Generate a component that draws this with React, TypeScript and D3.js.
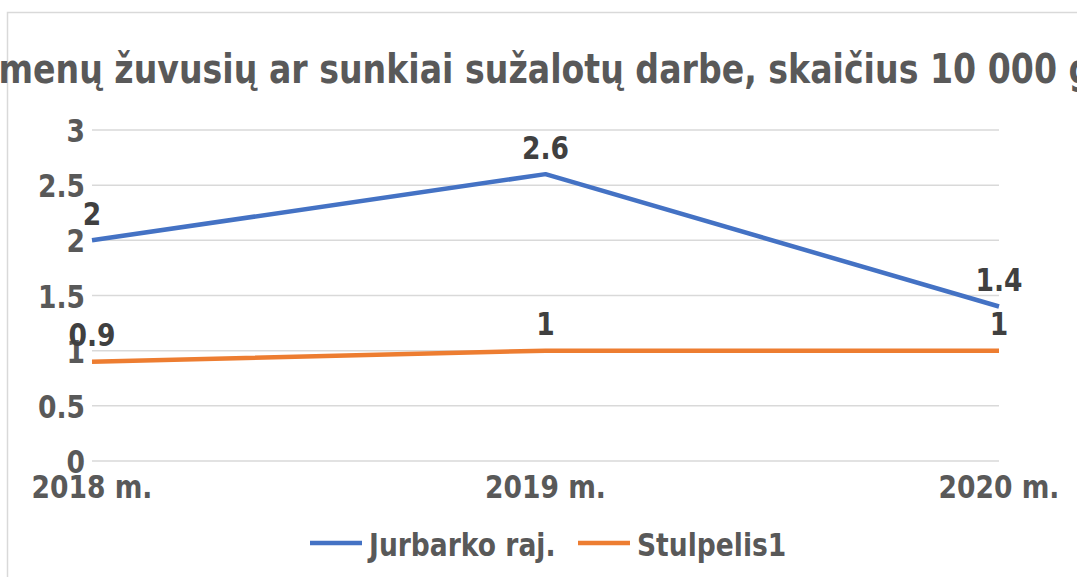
import React from "react";
import { scalePoint, scaleLinear, line } from "d3";

const years = ["2018 m.", "2019 m.", "2020 m."];
const jurbarko = [2, 2.6, 1.4];
const stulpelis = [0.9, 1, 1];
const yTicks = [0, 0.5, 1, 1.5, 2, 2.5, 3];
const seriesNames = ["Jurbarko raj.", "Stulpelis1"];
const seriesColors = ["#4472C4", "#ED7D31"];
const title = "Asmenų žuvusių ar sunkiai sužalotų darbe, skaičius 10 000 gyventojų";

const FONT = "'DejaVu Sans', Verdana, sans-serif";
const SX = 0.83; // text in the picture is squeezed horizontally

function T({ x, y, size, fill, anchor = "middle", children }) {
  return (
    <g transform={`translate(${x},${y}) scale(${SX},1)`}>
      <text fontFamily={FONT} fontWeight="bold" fontSize={size} fill={fill} textAnchor={anchor}>
        {children}
      </text>
    </g>
  );
}

export default function App() {
  const width = 1077;
  const height = 577;
  const plot = { left: 92, right: 999, top: 130, bottom: 461 };

  const x = scalePoint().domain(years).range([plot.left, plot.right]);
  const y = scaleLinear().domain([0, 3]).range([plot.bottom, plot.top]);

  const gen = line<number>()
    .x((_, i) => x(years[i]))
    .y((d) => y(d));

  const series = [jurbarko, stulpelis];
  const legendX = [310, 578];

  return (
    <svg width={width} height={height} style={{ position: "absolute", left: 0, top: 0, background: "#fff" }}>
      <rect x={7.5} y={12.5} width={1200} height={700} fill="#fff" stroke="#d9d9d9" strokeWidth={1.5} />

      <T x={-47} y={83} size={40} fill="#595959" anchor="start">{title}</T>

      {yTicks.map((t) => (
        <g key={t}>
          <line x1={plot.left} x2={plot.right} y1={y(t)} y2={y(t)} stroke="#d9d9d9" strokeWidth={1.5} />
          <T x={85} y={y(t) + 12} size={32} fill="#595959" anchor="end">{String(t)}</T>
        </g>
      ))}

      {years.map((yr) => (
        <T key={yr} x={x(yr)} y={498} size={32} fill="#595959">{yr}</T>
      ))}

      {series.map((s, si) => (
        <path key={si} d={gen(s)} fill="none" stroke={seriesColors[si]} strokeWidth={4.5} strokeLinejoin="round" />
      ))}

      {series.map((s, si) =>
        s.map((v, i) => (
          <T key={`${si}-${i}`} x={x(years[i])} y={y(v) - 15.5} size={32} fill="#404040">{String(v)}</T>
        ))
      )}

      {seriesNames.map((n, i) => (
        <g key={n}>
          <line x1={legendX[i]} x2={legendX[i] + 52} y1={543} y2={543} stroke={seriesColors[i]} strokeWidth={4.5} />
          <T x={legendX[i] + 59} y={556} size={32} fill="#595959" anchor="start">{n}</T>
        </g>
      ))}
    </svg>
  );
}
